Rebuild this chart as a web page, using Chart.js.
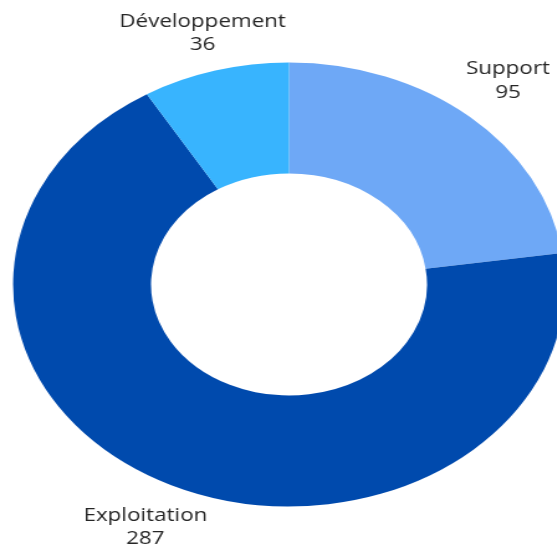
<!DOCTYPE html>
<html lang="fr">
<head>
  <meta charset="UTF-8">
  <title>Répartition des activités</title>
  <script src="https://cdn.jsdelivr.net/npm/chart.js"></script>
  <style>
    html, body {
      margin: 0;
      padding: 0;
      background: #fff;
      overflow: hidden;
      width: 557px;
      height: 548px;
    }

    /* the ring is drawn wider than tall */
    .wrap {
      width: 465px;
      height: 548px;
      transform: scaleX(1.243);
      transform-origin: 0 0;
    }
  </style>
</head>
<body>

  <div class="wrap">
    <canvas id="chart" width="465" height="548"></canvas>
  </div>

  <script>
    const categories = ['Support', 'Exploitation', 'Développement'];
    const values = [95, 287, 36];
    const colors = ['#6ea8f6', '#004aad', '#38b4fe'];

    // nom + valeur à l'extérieur de chaque part
    const outerLabels = {
      id: 'outerLabels',
      afterDatasetsDraw(chart) {
        const ctx = chart.ctx;
        const meta = chart.getDatasetMeta(0);
        ctx.save();
        ctx.font = '18px "Open Sans"';
        ctx.fillStyle = '#262626';
        ctx.textAlign = 'center';
        ctx.textBaseline = 'middle';
        meta.data.forEach((arc, i) => {
          const p = arc.getProps(['x', 'y', 'startAngle', 'endAngle', 'outerRadius'], true);
          const mid = (p.startAngle + p.endAngle) / 2;
          // labels on the sides need more room for their width, lower ones a bit more
          const dist = p.outerRadius + 32 + 23 * Math.abs(Math.cos(mid)) + 6 * Math.max(0, Math.sin(mid));
          const cx = p.x + Math.cos(mid) * dist;
          const cy = p.y + Math.sin(mid) * dist;
          ctx.fillText(categories[i], cx, cy - 12);
          ctx.fillText(String(values[i]), cx, cy + 11.5);
        });
        ctx.restore();
      }
    };

    new Chart(document.getElementById('chart').getContext('2d'), {
      type: 'doughnut',
      data: {
        labels: categories,
        datasets: [{
          data: values,
          backgroundColor: colors,
          borderWidth: 0
        }]
      },
      options: {
        responsive: false,
        animation: false,
        cutout: '50%',
        layout: {
          padding: {top: 62.5, bottom: 41.5, left: 10.5, right: 10.5}
        },
        plugins: {
          legend: {display: false},
          tooltip: {enabled: false}
        }
      },
      plugins: [outerLabels]
    });
  </script>

</body>
</html>
